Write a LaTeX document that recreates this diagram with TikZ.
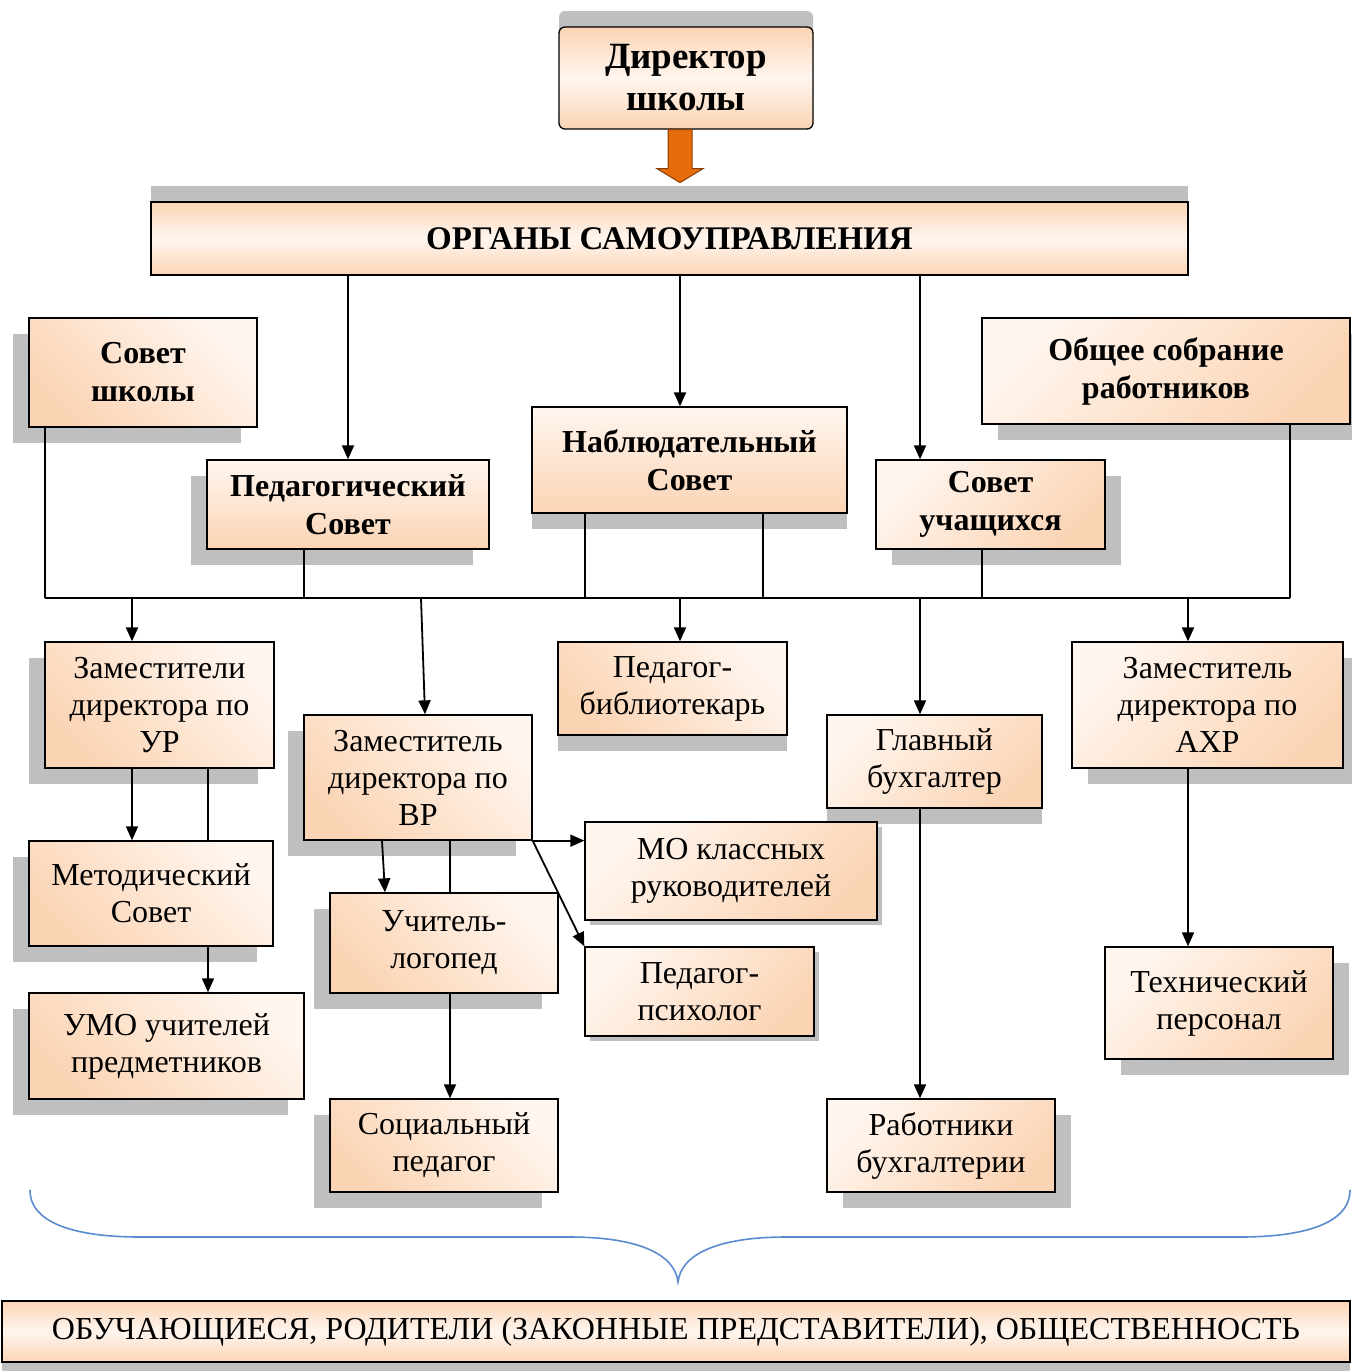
\documentclass[tikz,border=0pt]{standalone}
\usepackage{fontspec}
\setmainfont{Liberation Serif}
\usetikzlibrary{shadows,arrows.meta,calc}

\definecolor{peach}{HTML}{FBD4B4}
\definecolor{cream}{HTML}{FFF6EF}
\definecolor{bracecol}{HTML}{5B8BCF}
\definecolor{orangefill}{HTML}{E46C0A}
\definecolor{orangeline}{HTML}{8A3E05}

\tikzset{
	box/.style={draw, line width=1.3pt, align=center, inner sep=1pt,
		font=\fontsize{32}{37}\selectfont},
	boldbox/.style={box, font=\fontsize{32}{38}\selectfont\bfseries},
	gradL/.style={shading=axis, top color=cream, bottom color=peach, shading angle=-45},
	gradR/.style={shading=axis, top color=cream, bottom color=peach, shading angle=45},
	gradV/.style={shading=axis, top color=cream, bottom color=peach},
	gradBand/.style={shading=axis, top color=peach, bottom color=peach, middle color=cream},
	shL/.style={drop shadow={shadow xshift=-16pt, shadow yshift=-16pt, fill=black!25, opacity=1}},
	shR/.style={drop shadow={shadow xshift=16pt, shadow yshift=-16pt, fill=black!25, opacity=1}},
	shD/.style={drop shadow={shadow xshift=0pt, shadow yshift=-16pt, fill=black!25, opacity=1}},
	shU/.style={drop shadow={shadow xshift=0pt, shadow yshift=16pt, fill=black!25, opacity=1}},
	shS/.style={drop shadow={shadow xshift=5pt, shadow yshift=-5pt, fill=black!25, opacity=1}},
	leftbox/.style={box, gradL, shL},
	rightbox/.style={box, gradR, shR},
	arr/.style={line width=1.8pt, -{Triangle[length=14pt, width=12pt]}},
	feed/.style={line width=1.3pt},
	bus/.style={line width=2pt},
}

\begin{document}
\begin{tikzpicture}[x=1pt, y=-1pt]
	\useasboundingbox (0,0) rectangle (1352,1371);
	
	% top
	\node[boldbox, gradBand, shU, rounded corners=6pt, minimum width=254, minimum height=102,
		font=\fontsize{37}{42}\selectfont\bfseries] (dir) at (686,78) {Директор\\школы};
	\node[boldbox, gradBand, shU, minimum width=1037, minimum height=73,
		font=\fontsize{33}{38}\selectfont\bfseries] (organy) at (669.5,238.5)
		{ОРГАНЫ САМОУПРАВЛЕНИЯ};
	\draw[line width=1pt, draw=orangeline, fill=orangefill] ([xshift=-6pt]dir.south) ++(-12,0)
		-- ++(24,0) -- ++(0,39) -- ++(11,0) -- ++(-23,14) -- ++(-23,-14) -- ++(11,0) -- cycle;
	
	% councils
	\node[boldbox, gradL, shL, minimum width=228, minimum height=109] (sovsch) at (143,372.5) {Совет\\школы};
	\node[boldbox, gradV, shL, minimum width=282, minimum height=89] (pedsov) at (348,504.5) {Педагогический\\Совет};
	\node[boldbox, gradV, shD, minimum width=315, minimum height=106] (nabl) at (689.5,460) {Наблюдательный\\Совет};
	\node[boldbox, gradR, shR, minimum width=229, minimum height=89] (uchsov) at (990.5,504.5) {Совет\\учащихся};
	\node[boldbox, gradR, shR, minimum width=368, minimum height=106] (obsh) at (1166,371) {Общее собрание\\работников};
	
	% staff
	\node[leftbox, minimum width=229, minimum height=126] (zamur) at (159.5,705) {Заместители\\директора по\\УР};
	\node[leftbox, minimum width=228, minimum height=125] (zamvr) at (418,777.5) {Заместитель\\директора по\\ВР};
	\node[box, gradL, shD, minimum width=229, minimum height=93] (bibl) at (672.5,688.5) {Педагог-\\библиотекарь};
	\node[box, gradR, shD, minimum width=215, minimum height=93] (glbuh) at (934.5,761.5) {Главный\\бухгалтер};
	\node[rightbox, minimum width=271, minimum height=126] (zamahr) at (1207.5,705) {Заместитель\\директора по\\АХР};
	\node[leftbox, minimum width=244, minimum height=105] (metod) at (151,893.5) {Методический\\Совет};
	\node[box, gradR, shS, minimum width=292, minimum height=98] (mo) at (731,871) {МО классных\\руководителей};
	\node[leftbox, minimum width=228, minimum height=100] (logo) at (444,943) {Учитель-\\логопед};
	\node[box, gradR, shS, minimum width=229, minimum height=89] (psih) at (699.5,991.5) {Педагог-\\психолог};
	\node[leftbox, minimum width=275, minimum height=106] (umo) at (166.5,1046) {УМО учителей\\предметников};
	\node[rightbox, minimum width=228, minimum height=112] (tech) at (1219,1003) {Технический\\персонал};
	\node[leftbox, minimum width=228, minimum height=93] (socped) at (444,1145.5) {Социальный\\педагог};
	\node[rightbox, minimum width=228, minimum height=93] (rabbuh) at (941,1145.5) {Работники\\бухгалтерии};
	
	% bottom
	\node[box, gradBand, drop shadow={shadow xshift=0pt, shadow yshift=-9pt, fill=black!25, opacity=1},
		minimum width=1348, minimum height=61] (people) at (676,1331.5)
		{ОБУЧАЮЩИЕСЯ, РОДИТЕЛИ (ЗАКОННЫЕ ПРЕДСТАВИТЕЛИ), ОБЩЕСТВЕННОСТЬ};
	
	% bus
	\coordinate (jA) at (45,598);
	\coordinate (jB) at (132,598);
	\coordinate (jC) at (304,598);
	\coordinate (jD) at (421,598);
	\coordinate (jE) at (585,598);
	\coordinate (jF) at (680,598);
	\coordinate (jG) at (763,598);
	\coordinate (jH) at (920,598);
	\coordinate (jI) at (982,598);
	\coordinate (jJ) at (1188,598);
	\coordinate (jK) at (1290,598);
	\draw[bus] (jA) -- (jK);
	
	\draw[arr] (organy.south -| pedsov.north) -- (pedsov.north);
	\draw[arr] (organy.south -| jF) -- (nabl.north -| jF);
	\draw[arr] (organy.south -| jH) -- (uchsov.north -| jH);
	
	\draw[feed] (sovsch.south -| jA) -- (jA);
	\draw[feed] (pedsov.south -| jC) -- (jC);
	\draw[feed] (nabl.south -| jE) -- (jE);
	\draw[feed] (nabl.south -| jG) -- (jG);
	\draw[feed] (uchsov.south -| jI) -- (jI);
	\draw[feed] (obsh.south -| jK) -- (jK);
	
	\draw[arr] (jB) -- (zamur.north -| jB);
	\draw[arr] (jD) -- ([xshift=7pt]zamvr.north);
	\draw[arr] (jF) -- (bibl.north -| jF);
	\draw[arr] (jH) -- (glbuh.north -| jH);
	\draw[arr] (jJ) -- (zamahr.north -| jJ);
	
	\draw[arr] (zamur.south -| jB) -- (metod.north -| jB);
	\draw[feed] ([xshift=48.5pt]zamur.south) -- ([xshift=57pt]metod.north);
	\draw[arr] ([xshift=57pt]metod.south) -- ([xshift=41.5pt]umo.north);
	
	\draw[arr] ([xshift=-36pt]zamvr.south) -- ([xshift=-59pt]logo.north);
	\draw[feed] ([xshift=32pt]zamvr.south) -- ([xshift=6pt]logo.north);
	\draw[arr] (zamvr.south east) -- (zamvr.south east -| mo.west);
	\draw[arr] (zamvr.south east) -- (psih.north west);
	\draw[arr] ([xshift=6pt]logo.south) -- ([xshift=6pt]socped.north);
	
	\draw[arr] (glbuh.south -| jH) -- (rabbuh.north -| jH);
	\draw[arr] (zamahr.south -| jJ) -- (tech.north -| jJ);
	
	% brace
	\draw[bracecol, line width=1.6pt] (30,1190) .. controls (30,1225) and (80,1237) .. (140,1237)
		-- (570,1237) .. controls (640,1237) and (675,1255) .. (678,1282)
		.. controls (681,1255) and (716,1237) .. (786,1237) -- (1240,1237)
		.. controls (1300,1237) and (1350,1225) .. (1350,1190);
\end{tikzpicture}
\end{document}
